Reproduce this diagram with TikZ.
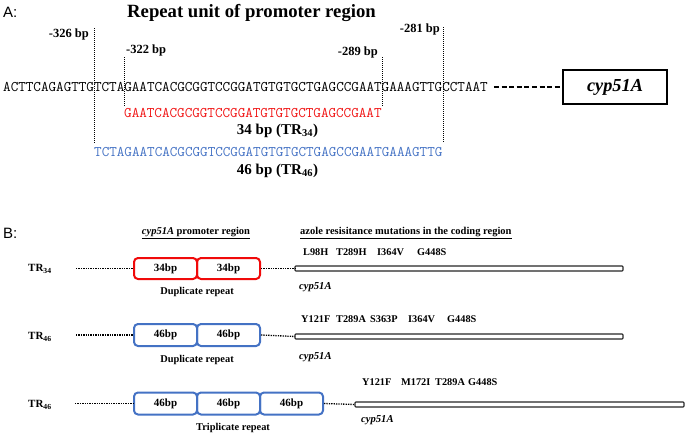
\documentclass[tikz,border=0pt]{standalone}
\usepackage{fontspec}
\setmainfont{Liberation Serif}
\setsansfont{Liberation Sans}
\definecolor{seqred}{RGB}{240,20,20}
\definecolor{seqblue}{RGB}{68,114,196}
\definecolor{boxred}{RGB}{240,10,10}
\begin{document}
\begin{tikzpicture}[x=1pt,y=-1pt,
  lbl/.style={inner sep=0pt, font=\fontsize{12.5}{13}\selectfont\bfseries},
  seq/.style={inner sep=0pt, anchor=west, font=\fontsize{14.7}{15}\ttfamily},
  vdot/.style={line width=1pt, dash pattern=on 1pt off 1pt},
  hdot/.style={line width=1.3pt, dash pattern=on 1.3pt off 1.1pt},
  rbox/.style={draw=boxred, line width=2pt, rounded corners=4pt, minimum width=63pt, minimum height=21pt, inner sep=0pt, font=\fontsize{11}{12}\selectfont\bfseries},
  bbox/.style={draw=seqblue, line width=2pt, rounded corners=4pt, minimum width=63pt, minimum height=22pt, inner sep=0pt, font=\fontsize{11}{12}\selectfont\bfseries},
  rowlbl/.style={inner sep=0pt, anchor=west, font=\fontsize{11}{12}\selectfont\bfseries},
  caplbl/.style={inner sep=0pt, font=\fontsize{10.4}{12}\selectfont\bfseries},
  mut/.style={inner sep=0pt, anchor=west, font=\fontsize{10.3}{12}\selectfont\bfseries},
  gname/.style={inner sep=0pt, anchor=west, font=\fontsize{10.6}{12}\selectfont\bfseries\itshape},
  gene/.style={draw=black!85, line width=1.1pt, fill=white, rounded corners=0.8pt},
  panel/.style={inner sep=0pt, anchor=west, font=\fontsize{15}{16}\selectfont\sffamily}]
\useasboundingbox (0,0) rectangle (685,434);

% ---------- Panel A ----------
\node[panel] (A) at (3,12) {A:};
\node[inner sep=0pt, font=\fontsize{18.7}{20}\selectfont\bfseries] (title) at (251.5,13) {Repeat unit of promoter region};

\node[lbl, anchor=east] (p326) at (89,34) {-326 bp};
\node[lbl, anchor=west] (p322) at (126,50) {-322 bp};
\node[lbl, anchor=east] (p289) at (378,52) {-289 bp};
\node[lbl, anchor=east] (p281) at (440,29) {-281 bp};

\coordinate (v1t) at (94,28);  \coordinate (v1b) at (94,143);
\coordinate (v2t) at (124,57); \coordinate (v2b) at (124,106);
\coordinate (v3t) at (382,57); \coordinate (v3b) at (382,106);
\coordinate (v4t) at (443,27); \coordinate (v4b) at (443,143);
\draw[vdot] (v1t) -- (v1b);
\draw[vdot] (v2t) -- (v2b);
\draw[vdot] (v3t) -- (v3b);
\draw[vdot] (v4t) -- (v4b);

\node[seq] (mainseq) at (3,87) {ACTTCAGAGTTGTCTAGAATCACGCGGTCCGGATGTGTGCTGAGCCGAATGAAAGTTGCCTAAT};
\node[draw, line width=1.2pt, minimum width=104pt, minimum height=34pt, inner sep=0pt,
      font=\fontsize{18.3}{20}\selectfont\bfseries\itshape] (cypbox) at (615,87) {cyp51A};
\draw[line width=2pt, dash pattern=on 5pt off 2.6pt] ([xshift=6pt]mainseq.east) -- (cypbox.west);

\node[seq, text=seqred] (redseq) at (124,113) {GAATCACGCGGTCCGGATGTGTGCTGAGCCGAAT};
\node[inner sep=0pt, font=\fontsize{15}{16}\selectfont\bfseries] (tr34) at (277.5,131) {34 bp (TR\textsubscript{34})};
\node[seq, text=seqblue] (blueseq) at (94,152) {TCTAGAATCACGCGGTCCGGATGTGTGCTGAGCCGAATGAAAGTTG};
\node[inner sep=0pt, font=\fontsize{15}{16}\selectfont\bfseries] (tr46) at (277.5,171) {46 bp (TR\textsubscript{46})};

% ---------- Panel B ----------
\node[panel] (B) at (3,233) {B:};
\node[inner sep=0pt, font=\fontsize{10.5}{12}\selectfont\bfseries] (hprom) at (196,233) {\underline{\textit{cyp51A} promoter region}};
\node[inner sep=0pt, anchor=west, font=\fontsize{10.5}{12}\selectfont\bfseries] (hmut) at (300,233) {\underline{azole resisitance mutations in the coding region}};

% Row 1
\node[rowlbl] (r1tr) at (28,269) {TR\textsubscript{34}};
\node[rbox] (r1a) at (165.5,268.5) {34bp};
\node[rbox] (r1b) at (228.5,268.5) {34bp};
\coordinate (r1s) at (76,268.5);
\draw[hdot] (r1s) -- (r1a.west);
\draw[gene] (295,266) rectangle (623,271);
\coordinate (r1g) at (295,268.5);
\draw[hdot] (r1b.east) -- (r1g);
\node[caplbl] (r1dup) at (197,292) {Duplicate repeat};
\node[gname] (r1cyp) at (299,287) {cyp51A};
\node[mut] (m11) at (303,252) {L98H};
\node[mut] (m12) at (336,252) {T289H};
\node[mut] (m13) at (377,252) {I364V};
\node[mut] (m14) at (417,252) {G448S};

% Row 2
\node[rowlbl] (r2tr) at (28,337) {TR\textsubscript{46}};
\node[bbox] (r2a) at (165.5,335) {46bp};
\node[bbox] (r2b) at (228.5,335) {46bp};
\coordinate (r2s) at (76,335);
\draw[hdot] (r2s) -- (r2a.west);
\draw[gene] (295,334) rectangle (623,339);
\coordinate (r2g) at (295,336.5);
\draw[hdot] (r2b.east) -- (r2g);
\node[caplbl] (r2dup) at (197,360) {Duplicate repeat};
\node[gname] (r2cyp) at (299,357) {cyp51A};
\node[mut] (m21) at (301,319) {Y121F};
\node[mut] (m22) at (336,319) {T289A};
\node[mut] (m23) at (370,319) {S363P};
\node[mut] (m24) at (408,319) {I364V};
\node[mut] (m25) at (447,319) {G448S};

% Row 3
\node[rowlbl] (r3tr) at (28,405) {TR\textsubscript{46}};
\node[bbox] (r3a) at (165.5,403.5) {46bp};
\node[bbox] (r3b) at (228.5,403.5) {46bp};
\node[bbox] (r3c) at (291.5,403.5) {46bp};
\coordinate (r3s) at (75,403.5);
\draw[hdot] (r3s) -- (r3a.west);
\draw[gene] (355,402) rectangle (684,407);
\coordinate (r3g) at (355,404.5);
\draw[hdot] (r3c.east) -- (r3g);
\node[caplbl] (r3tri) at (233,428) {Triplicate repeat};
\node[gname] (r3cyp) at (361,420) {cyp51A};
\node[mut] (m31) at (362,382) {Y121F};
\node[mut] (m32) at (401,382) {M172I};
\node[mut] (m33) at (435,382) {T289A};
\node[mut] (m34) at (468,382) {G448S};
\end{tikzpicture}
\end{document}
